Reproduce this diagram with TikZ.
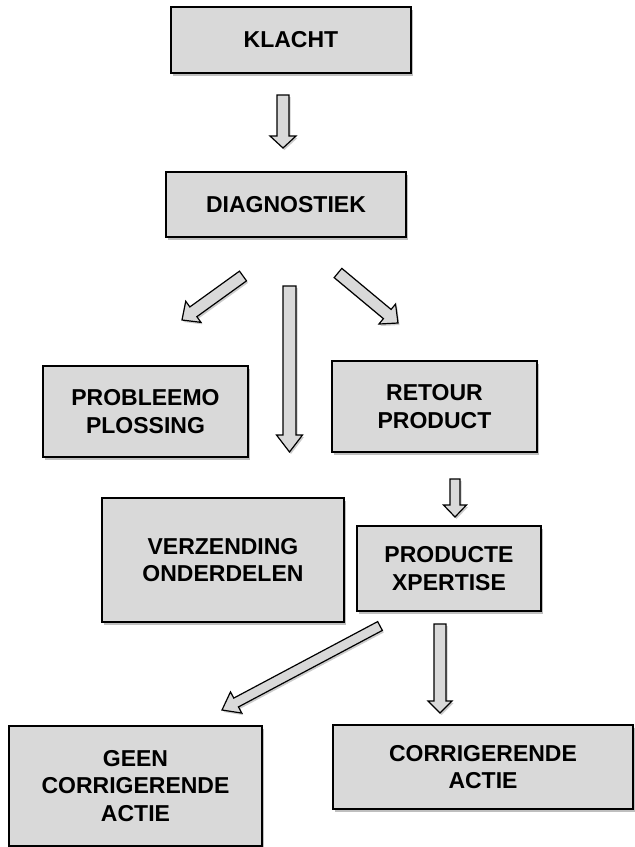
\documentclass[tikz,border=0pt]{standalone}
\usepackage{fontspec}
\setmainfont{Liberation Sans}
\usetikzlibrary{calc,shadows}
\definecolor{boxgray}{HTML}{D9D9D9}
\newcommand\blockarr[6]{%
  \coordinate (#6) at ($(#2)!#5!(#1)$);
  \draw[arr] ($(#1)!#3!90:(#2)$) -- ($(#6)!#3!90:(#2)$) -- ($(#6)!#4!90:(#2)$) -- (#2)
    -- ($(#6)!#4!-90:(#2)$) -- ($(#6)!#3!-90:(#2)$) -- ($(#1)!#3!-90:(#2)$) -- cycle;}
\begin{document}
\begin{tikzpicture}[x=1pt,y=-1pt,
  box/.style={draw=black, line width=1.4pt, fill=boxgray, rectangle, inner sep=0pt,
    align=center, font=\fontsize{23}{27.5}\selectfont\bfseries,
    drop shadow={shadow xshift=2pt, shadow yshift=-3pt, fill=black, opacity=0.25}},
  arr/.style={draw=black, line width=1.2pt, fill=boxgray, line join=miter,
    drop shadow={shadow xshift=1.5pt, shadow yshift=-2pt, fill=black, opacity=0.2}}]
\useasboundingbox (0,0) rectangle (635,847);
\node[box, minimum width=240pt, minimum height=66pt] (klacht) at (291,40) {KLACHT};
\node[box, minimum width=240pt, minimum height=65pt] (diag) at (286,204.5) {DIAGNOSTIEK};
\node[box, minimum width=205pt, minimum height=91pt] (prob) at (145.5,411.5) {PROBLEEMO\\PLOSSING};
\node[box, minimum width=205pt, minimum height=91pt] (retour) at (434.5,406.5) {RETOUR\\PRODUCT};
\node[box, minimum width=242pt, minimum height=124pt] (verz) at (223,560) {VERZENDING\\ONDERDELEN};
\node[box, minimum width=184pt, minimum height=85pt] (expert) at (449,568.5) {PRODUCTE\\XPERTISE};
\node[box, minimum width=253pt, minimum height=120pt] (geen) at (135.5,786) {GEEN\\CORRIGERENDE\\ACTIE};
\node[box, minimum width=300pt, minimum height=84pt] (corr) at (483,767) {CORRIGERENDE\\ACTIE};
% arrow end points
\coordinate (a1s) at (283,95);    \coordinate (a1e) at (283,148);
\coordinate (a2s) at (243,276);   \coordinate (a2e) at (182,320);
\coordinate (a3s) at (338,273);   \coordinate (a3e) at (398,323);
\coordinate (a4s) at (289.5,286); \coordinate (a4e) at (289.5,452);
\coordinate (a5s) at (455,479);   \coordinate (a5e) at (455,517);
\coordinate (a6s) at (380,626);   \coordinate (a6e) at (222,710);
\coordinate (a7s) at (440,624);   \coordinate (a7e) at (440,713);
\blockarr{a1s}{a1e}{6pt}{13pt}{12pt}{n1}
\blockarr{a2s}{a2e}{6pt}{13pt}{14pt}{n2}
\blockarr{a3s}{a3e}{6pt}{13pt}{14pt}{n3}
\blockarr{a4s}{a4e}{6.5pt}{13pt}{17pt}{n4}
\blockarr{a5s}{a5e}{5pt}{11.5pt}{12pt}{n5}
\blockarr{a6s}{a6e}{5pt}{12pt}{16pt}{n6}
\blockarr{a7s}{a7e}{6pt}{12pt}{12pt}{n7}
\end{tikzpicture}
\end{document}
